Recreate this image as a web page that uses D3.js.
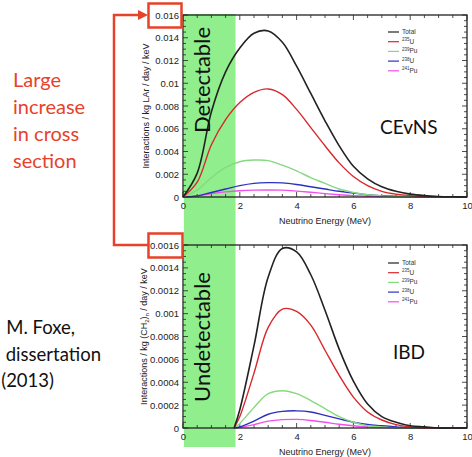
<!DOCTYPE html>
<html><head><meta charset="utf-8">
<script src="https://cdn.jsdelivr.net/npm/d3@7"></script>
<style>body{margin:0;background:#fff;} svg{display:block;}</style>
</head><body>
<script>
// ---------- data ----------
const energyTop = [0,0.5,1,1.5,2,2.5,3,3.5,4,4.5,5,5.5,6,6.5,7,7.5,8,8.5,9,9.5,10];
const cevnsTotal = [0,0.0021,0.0075,0.0110,0.0131,0.0144,0.0146,0.0136,0.0115,0.0091,0.0067,0.0045,0.0027,0.0016,0.0009,0.0005,0.00025,0.00012,0.00005,0.00002,0];
const cevnsU235 = [0,0.0013,0.0046,0.0068,0.0083,0.0092,0.0095,0.0090,0.0077,0.0061,0.0045,0.0030,0.0018,0.0010,0.0005,0.00025,0.00012,0.00005,0.00002,0.00001,0];
const cevnsPu239 = [0,0.0006,0.0017,0.0026,0.0031,0.00325,0.0032,0.0028,0.0023,0.0017,0.0012,0.0007,0.0004,0.0002,0.0001,0.00005,0.00002,0.00001,0,0,0];
const cevnsU238 = [0,0.0001,0.0004,0.0007,0.0010,0.0012,0.00126,0.00124,0.0011,0.0009,0.0007,0.0005,0.00035,0.0002,0.00012,0.00007,0.00004,0.00002,0.00001,0,0];
const cevnsPu241 = [0,0.0001,0.0003,0.00045,0.00055,0.0006,0.00062,0.0006,0.00052,0.00042,0.0003,0.0002,0.00012,0.00007,0.00004,0.00002,0.00001,0,0,0,0];

const energyBot = [1.8,2,2.5,3,3.5,4,4.5,5,5.5,6,6.5,7,7.5,8,8.5,9,9.5,10];
const ibdTotal = [0,0.00016,0.00072,0.00132,0.00157,0.00154,0.00134,0.00103,0.00069,0.00041,0.00021,0.0001,0.00005,0.00002,0.00001,0,0,0];
const ibdU235 = [0,0.0001,0.00048,0.00088,0.00104,0.00102,0.0009,0.00068,0.00046,0.00027,0.00014,0.00007,0.00003,0.00001,0,0,0,0];
const ibdPu239 = [0,0.00004,0.00018,0.0003,0.000326,0.0003,0.00024,0.00017,0.0001,0.00005,0.00002,0.00001,0,0,0,0,0,0];
const ibdU238 = [0,0.00001,0.00006,0.00012,0.000145,0.00015,0.00014,0.00011,0.00008,0.00005,0.00003,0.00002,0.00001,0,0,0,0,0];
const ibdPu241 = [0,0.000005,0.00003,0.00006,0.000073,0.000075,0.000066,0.00005,0.000033,0.00002,0.00001,0.000005,0,0,0,0,0,0];

const seriesNames = ["Total","U","Pu","U","Pu"];
const seriesIso = ["","235","239","238","241"];
const seriesColors = ["#222222","#d8282c","#86d97e","#2c30c0","#f050ec"];

const xTickVals = [0,2,4,6,8,10];
const xTickLabels = ["0","2","4","6","8","10"];
const topYTickVals = [0,0.002,0.004,0.006,0.008,0.01,0.012,0.014,0.016];
const topYTickLabels = ["0","0.002","0.004","0.006","0.008","0.01","0.012","0.014","0.016"];
const botYTickVals = [0,0.0002,0.0004,0.0006,0.0008,0.001,0.0012,0.0014,0.0016];
const botYTickLabels = ["0","0.0002","0.0004","0.0006","0.0008","0.001","0.0012","0.0014","0.0016"];
const detectLimit = [0.03,1.85];

// ---------- drawing ----------
const W=472,H=457;
const svg=d3.select("body").append("svg").attr("width",W).attr("height",H);
const FONT="Liberation Sans, Arial, sans-serif";

const x = d3.scaleLinear().domain([0,10]).range([183,467]);
const yTop = d3.scaleLinear().domain([0,0.016]).range([197,15]);
const yBot = d3.scaleLinear().domain([0,0.0016]).range([428,245]);

svg.append("rect").attr("x",x(detectLimit[0])).attr("y",14)
  .attr("width",x(detectLimit[1])-x(detectLimit[0])).attr("height",447-14)
  .attr("fill","#90ee8c");

function panel(y, xs, series, yVals, yLabels, yTitle, tag, tagPos, legY){
  const g = svg.append("g");
  const [x0,x1]=x.range(), [yb,yt]=y.range();
  const minorX = d3.range(0,10.001,0.5);
  const yStep=(yVals[1]-yVals[0])/4;
  const minorY = d3.range(0,y.domain()[1]+yStep/2,yStep);
  minorX.forEach(v=>{
    const big = xTickVals.includes(v);
    const L = big?5:3;
    g.append("line").attr("x1",x(v)).attr("x2",x(v)).attr("y1",yb).attr("y2",yb-L).attr("stroke","#222").attr("stroke-width",0.8);
    g.append("line").attr("x1",x(v)).attr("x2",x(v)).attr("y1",yt).attr("y2",yt+L).attr("stroke","#222").attr("stroke-width",0.8);
  });
  minorY.forEach((v,i)=>{
    const L = (i%4===0)?5:3;
    g.append("line").attr("x1",x0).attr("x2",x0+L).attr("y1",y(v)).attr("y2",y(v)).attr("stroke","#222").attr("stroke-width",0.8);
    g.append("line").attr("x1",x1).attr("x2",x1-L).attr("y1",y(v)).attr("y2",y(v)).attr("stroke","#222").attr("stroke-width",0.8);
  });
  const line = d3.line().x(d=>x(d[0])).y(d=>Math.min(yb,y(d[1]))).curve(d3.curveCatmullRom.alpha(0.5));
  series.slice().reverse().forEach((s,ri)=>{
    const i = series.length-1-ri;
    g.append("path").datum(xs.map((e,k)=>[e,s[k]])).attr("d",line)
      .attr("fill","none").attr("stroke",seriesColors[i]).attr("stroke-width",i===0?1.6:1.4);
  });
  g.append("rect").attr("x",x0).attr("y",yt).attr("width",x1-x0).attr("height",yb-yt)
    .attr("fill","none").attr("stroke","#222").attr("stroke-width",1.3);
  const ax = d3.axisBottom(x).tickValues(xTickVals).tickFormat((d,i)=>xTickLabels[i]).tickSize(0).tickPadding(5);
  const axg = g.append("g").attr("transform",`translate(0,${yb})`).call(ax);
  axg.select(".domain").remove();
  axg.selectAll("text").attr("font-family",FONT).attr("font-size",9.5).attr("fill","#222");
  const ay = d3.axisLeft(y).tickValues(yVals).tickFormat((d,i)=>yLabels[i]).tickSize(0).tickPadding(4);
  const ayg = g.append("g").attr("transform",`translate(${x0},0)`).call(ay);
  ayg.select(".domain").remove();
  ayg.selectAll("text").attr("font-family",FONT).attr("font-size",9.5).attr("fill","#222");
  g.append("text").attr("x",(x0+x1)/2).attr("y",yb+27).attr("text-anchor","middle")
    .attr("font-family",FONT).attr("font-size",9).attr("fill","#222").text("Neutrino Energy (MeV)");
  const yt2 = g.append("text").attr("transform",`translate(${yTitle.x},${(yb+yt)/2}) rotate(-90)`)
    .attr("text-anchor","middle").attr("font-family",FONT).attr("font-size",9).attr("fill","#222");
  yTitle.parts.forEach(p=>{
    const t=yt2.append("tspan").text(p.t);
    if(p.sub){t.attr("font-size",6).attr("dy",2);} 
    if(p.back){t.attr("dy",-2);}
  });
  g.append("text").attr("x",tagPos[0]).attr("y",tagPos[1]).attr("font-family","Lato, sans-serif")
    .attr("font-size",19).attr("fill","#111").attr("dominant-baseline","middle").text(tag);
  series.forEach((s,i)=>{
    const ly = legY + i*9.7;
    g.append("line").attr("x1",388).attr("x2",399).attr("y1",ly).attr("y2",ly)
      .attr("stroke",seriesColors[i]).attr("stroke-width",1.2);
    const t = g.append("text").attr("x",402).attr("y",ly+2).attr("font-family",FONT).attr("font-size",6.5).attr("fill","#333");
    if(seriesIso[i]){ t.append("tspan").attr("font-size",4.5).attr("dy",-2.5).text(seriesIso[i]); t.append("tspan").attr("dy",2.5).text(seriesNames[i]); }
    else t.text(seriesNames[i]);
  });
}

panel(yTop, energyTop, [cevnsTotal,cevnsU235,cevnsPu239,cevnsU238,cevnsPu241], topYTickVals, topYTickLabels,
  {x:149, parts:[{t:"Interactions / kg LAr / day / keV"}]}, "CEvNS", [380,129], 32);
panel(yBot, energyBot, [ibdTotal,ibdU235,ibdPu239,ibdU238,ibdPu241], botYTickVals, botYTickLabels,
  {x:147, parts:[{t:"Interactions / kg (CH"},{t:"2",sub:true},{t:")",back:true},{t:"n",sub:true},{t:" / day / keV",back:true}]}, "IBD", [393,354], 263);

svg.append("text").attr("transform",`translate(210,80) rotate(-90)`).attr("text-anchor","middle")
  .attr("font-family","Lato, sans-serif").attr("font-size",22).attr("fill","#111").text("Detectable");
svg.append("text").attr("transform",`translate(210,337) rotate(-90)`).attr("text-anchor","middle")
  .attr("font-family","Lato, sans-serif").attr("font-size",22).attr("fill","#111").text("Undetectable");

const RED="#e8412a";
svg.append("rect").attr("x",148.5).attr("y",3.5).attr("width",33).attr("height",24).attr("fill","none").attr("stroke",RED).attr("stroke-width",2.5);
svg.append("rect").attr("x",148.5).attr("y",233.5).attr("width",34).attr("height",24).attr("fill","none").attr("stroke",RED).attr("stroke-width",2.5);
svg.append("path").attr("d","M148,245 H114 V15 H140").attr("fill","none").attr("stroke",RED).attr("stroke-width",2.5);
svg.append("path").attr("d","M138,10 L148,15 L138,20 Z").attr("fill",RED);

const redLines=["Large","increase","in cross","section"];
redLines.forEach((t,i)=>svg.append("text").attr("x",13).attr("y",87+i*27).attr("font-family","Lato, sans-serif")
  .attr("font-size",20).attr("fill",RED).text(t));
const cite=[["M. Foxe,",75,334],["dissertation",101,361],["(2013)",54,387]];
cite.forEach(c=>svg.append("text").attr("x",c[1]).attr("y",c[2]).attr("text-anchor","end")
  .attr("font-family","Lato, sans-serif").attr("font-size",18.5).attr("fill","#111").text(c[0]));
</script>
</body></html>
